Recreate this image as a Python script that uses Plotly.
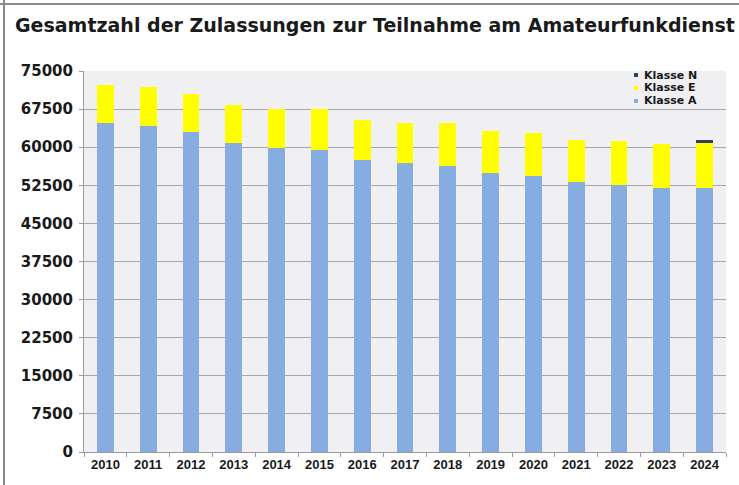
import plotly.graph_objects as go

years = ["2010", "2011", "2012", "2013", "2014", "2015", "2016", "2017",
         "2018", "2019", "2020", "2021", "2022", "2023", "2024"]
klasse_a = [64800, 64200, 62900, 60900, 59800, 59400, 57500, 56800,
            56300, 55000, 54300, 53200, 52600, 51900, 51900]
totals_ae = [72300, 71900, 70500, 68300, 67600, 67600, 65300, 64700,
             64700, 63100, 62700, 61400, 61200, 60600, 60900]
klasse_e = [t - a for t, a in zip(totals_ae, klasse_a)]
klasse_n = [0, 0, 0, 0, 0, 0, 0, 0, 0, 0, 0, 0, 0, 0, 450]
y_ticks = [0, 7500, 15000, 22500, 30000, 37500, 45000, 52500, 60000, 67500, 75000]
title_text = "Gesamtzahl der Zulassungen zur Teilnahme am Amateurfunkdienst"
legend_names = ["Klasse N", "Klasse E", "Klasse A"]

C_A = "#86ACE2"
C_E = "#FFFF00"
C_N = "#2B3F6B"
FONT = "Liberation Sans, Arial, sans-serif"
WIDE = "DejaVu Sans, Verdana, sans-serif"

fig = go.Figure()
fig.add_trace(go.Bar(x=years, y=klasse_a, name="Klasse A", marker=dict(color=C_A, line=dict(width=0))))
fig.add_trace(go.Bar(x=years, y=klasse_e, name="Klasse E", marker=dict(color=C_E, line=dict(width=0))))
fig.add_trace(go.Bar(x=years, y=klasse_n, name="Klasse N", marker=dict(color=C_N, line=dict(width=0))))

fig.update_layout(
    width=739, height=485,
    barmode="stack", bargap=0.61,
    showlegend=False,
    paper_bgcolor="white",
    plot_bgcolor="#F0F0F2",
    margin=dict(l=84, r=13, t=71, b=33),
    font=dict(family=FONT, color="#1A1A1A"),
    title=dict(text="<b>" + title_text + "</b>", xref="container", yref="container",
               x=15 / 739, xanchor="left", y=1 - 25 / 485, yanchor="middle",
               font=dict(family=WIDE, size=19, color="#1A1A1A")),
)
fig.update_yaxes(range=[0, 75000], tickvals=y_ticks,
                 ticktext=["<b>%d</b>" % v for v in y_ticks],
                 showgrid=True, gridcolor="#A8A8A8", gridwidth=1,
                 showline=True, linecolor="#9A9A9A", linewidth=1,
                 ticks="outside", ticklen=4, tickcolor="#9A9A9A",
                 ticklabelstandoff=3,
                 tickfont=dict(size=15, family=WIDE, color="#1A1A1A"),
                 zeroline=False)
fig.update_xaxes(tickvals=years, ticktext=["<b>%s</b>" % y for y in years],
                 showline=True, linecolor="#9A9A9A", linewidth=1,
                 ticks="outside", ticklen=4, tickcolor="#9A9A9A", tickson="boundaries",
                 tickfont=dict(size=13, family=FONT, color="#1A1A1A"),
                 showgrid=False)

# legend drawn as annotations (compact rows)
leg_colors = [C_N, C_E, C_A]
for i, (nm, c) in enumerate(zip(legend_names, leg_colors)):
    yc = 75 + 13 * i - 71
    fig.add_annotation(xref="paper", yref="paper",
                       x=(642 - 84) / 642, y=1 - yc / 381,
                       xanchor="left", yanchor="middle", showarrow=False,
                       text="<b>" + nm + "</b>",
                       font=dict(family=WIDE, size=11, color="#1A1A1A"))
    fig.add_shape(type="rect", xref="paper", yref="paper",
                  x0=(634 - 84) / 642, x1=(638 - 84) / 642,
                  y0=1 - (yc + 2) / 381, y1=1 - (yc - 2) / 381,
                  fillcolor=c, line=dict(width=0))

# outer frame lines (top and left)
fig.add_shape(type="line", xref="paper", yref="paper",
              x0=-84 / 642, x1=1 + 13 / 642, y0=1 + 67 / 381, y1=1 + 67 / 381,
              line=dict(color="#8A8A8A", width=2))
fig.add_shape(type="line", xref="paper", yref="paper",
              x0=-80 / 642, x1=-80 / 642, y0=-33 / 381, y1=1 + 71 / 381,
              line=dict(color="#8A8A8A", width=2))

fig.write_html("out.html", config={"displayModeBar": False},
               post_script="document.body.style.margin='0px';document.body.style.padding='0px';")
